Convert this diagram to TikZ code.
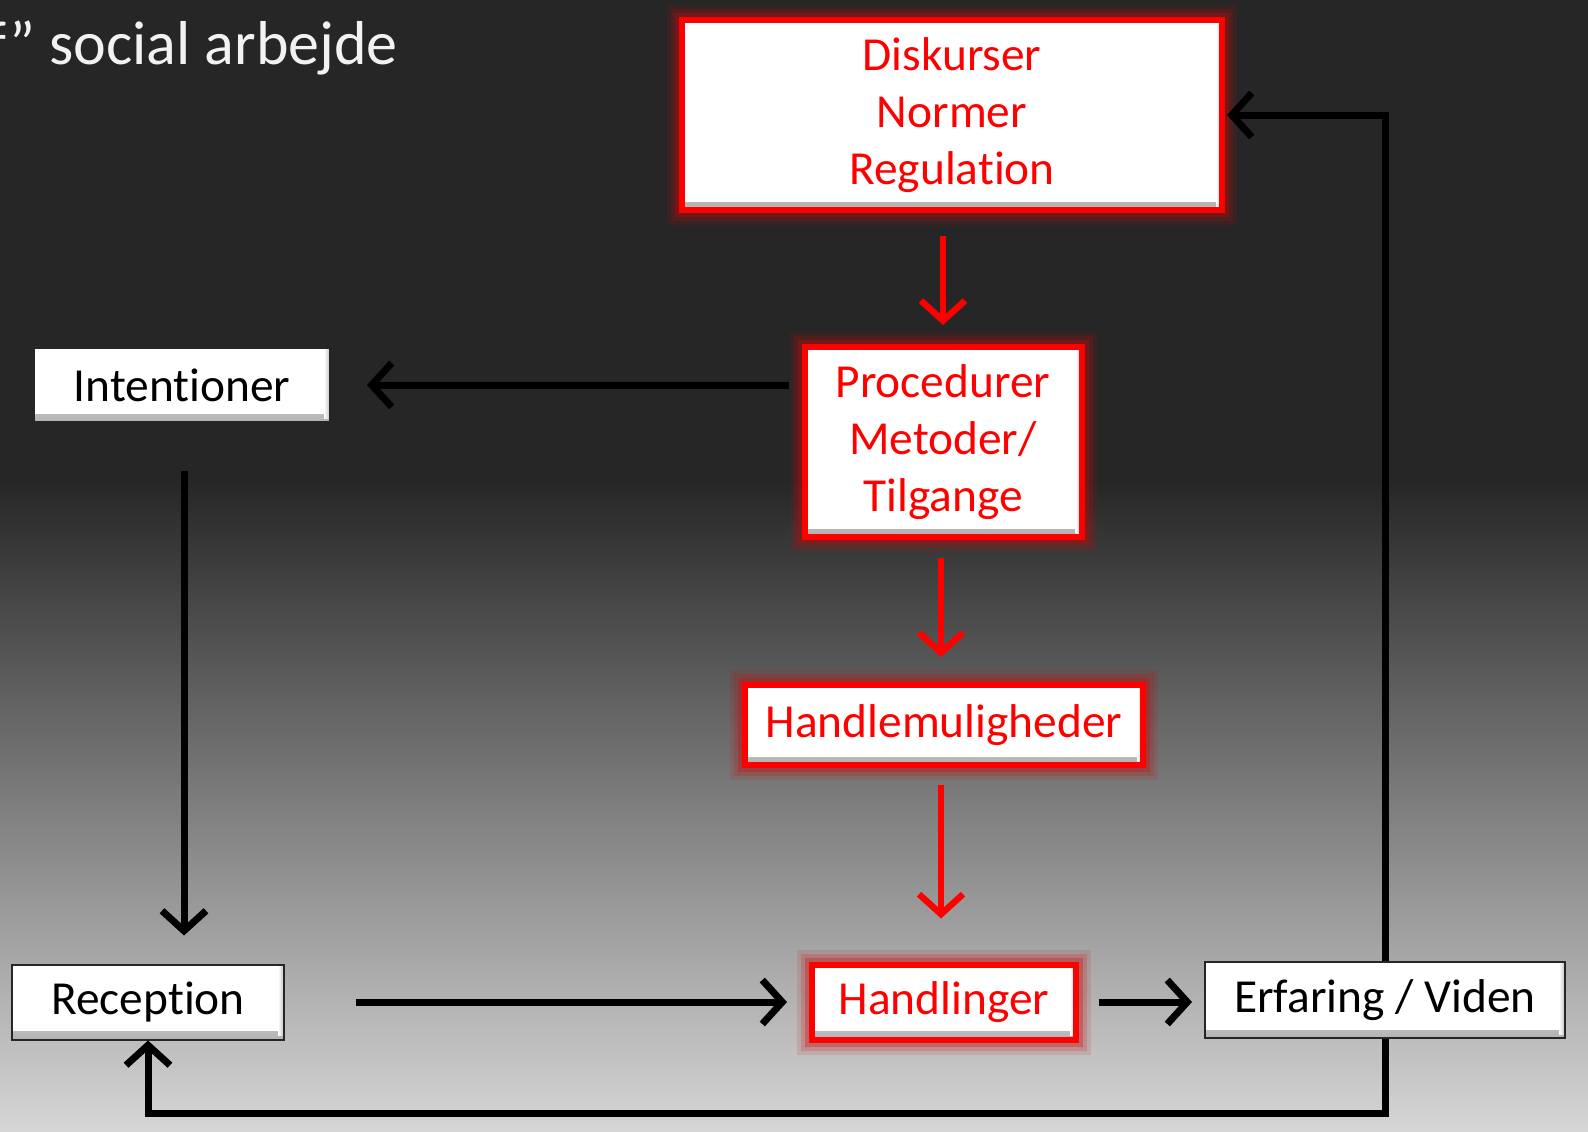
\documentclass[tikz,border=0pt]{standalone}
\usepackage{fontspec}
\setmainfont{Carlito}[Ligatures=NoCommon]
\usetikzlibrary{arrows.meta}
\definecolor{bgdark}{RGB}{38,38,38}
\definecolor{bglight}{RGB}{214,214,214}
\definecolor{glow}{RGB}{200,10,10}
\tikzset{
  bevel/.style={path picture={
      \shade[top color=white, bottom color=black!30] ([yshift=4pt]path picture bounding box.south west) rectangle (path picture bounding box.south east);
      \shade[left color=white, right color=black!25] ([xshift=-3pt]path picture bounding box.north east) rectangle ([yshift=2pt]path picture bounding box.south east);
    }},
  box/.style={draw=black!85, line width=1pt, fill=white, text=black, align=center, inner sep=0pt, bevel,
    font=\fontsize{23.7}{28.5}\selectfont},
  redbox/.style={box, draw=red, line width=3pt, text=red,
    preaction={draw=glow, line width=15pt, opacity=.12},
    preaction={draw=glow, line width=11pt, opacity=.18},
    preaction={draw=glow, line width=7pt, opacity=.3}},
  arr/.style={line width=3.5pt, -{Straight Barb[length=10pt,width=22pt]}},
  redarr/.style={arr, draw=red, line width=3.2pt}
}
\begin{document}
\begin{tikzpicture}[x=0.5pt, y=-0.5pt]
  % background
  \useasboundingbox (0,0) rectangle (1588,1131);
  \clip (0,0) rectangle (1588,1131);
  \fill[bgdark] (0,0) rectangle (1588,481);
  \shade[top color=bgdark, bottom color=bglight] (0,480) rectangle (1588,1131);
  \node[anchor=base east, text=white!95!black, font=\fontsize{31}{36}\selectfont] (title) at (405,64) {f” social arbejde};
  % nodes
  \node[redbox, minimum width=270pt, minimum height=95pt] (disk) at (952,115) {Diskurser\\Normer\\Regulation};
  \node[redbox, minimum width=138.5pt, minimum height=95pt] (proc) at (943,442) {Procedurer\\Metoder/\\Tilgange};
  \node[redbox, minimum width=199pt, minimum height=40pt] (hm) at (944,725) {Handlemuligheder};
  \node[redbox, minimum width=132pt, minimum height=37.5pt] (handl) at (944,1002) {Handlinger};
  \node[box, minimum width=148pt, minimum height=37pt] (int) at (182,385) {Intentioner};
  \node[box, minimum width=136pt, minimum height=37.5pt] (rec) at (148,1002) {Reception};
  \node[box, minimum width=180pt, minimum height=38pt] (erf) at (1385,1000) {Erfaring / Viden};
  % lines
  \draw[redarr, shorten <=11.5pt, shorten >=9.5pt] (proc.north |- disk.south) -- (proc.north);
  \draw[redarr, shorten <=9pt, shorten >=12.5pt] ([xshift=-1pt]proc.south) -- ([xshift=-1.5pt]hm.north);
  \draw[redarr, shorten <=8.5pt, shorten >=21.5pt] ([xshift=-1.5pt]hm.south) -- ([xshift=-1.5pt]handl.north);
  \draw[arr, shorten <=6.5pt, shorten >=18pt] (int.east -| proc.west) -- (int.east);
  \draw[arr, shorten <=24pt, shorten >=14pt] ([xshift=1pt]int.south) -- ([xshift=1pt]int.south |- rec.north);
  \draw[arr, shorten <=35.5pt, shorten >=11pt] (rec.east) -- (handl.west);
  \draw[arr, shorten <=10pt, shorten >=6pt] (handl.east) -- (handl.east -| erf.west);
  \draw[arr, shorten >=1pt] (erf.north) |- (disk.east);
  \draw[arr] (erf.south) -- ++(0,74) -| (rec.south);
\end{tikzpicture}
\end{document}
